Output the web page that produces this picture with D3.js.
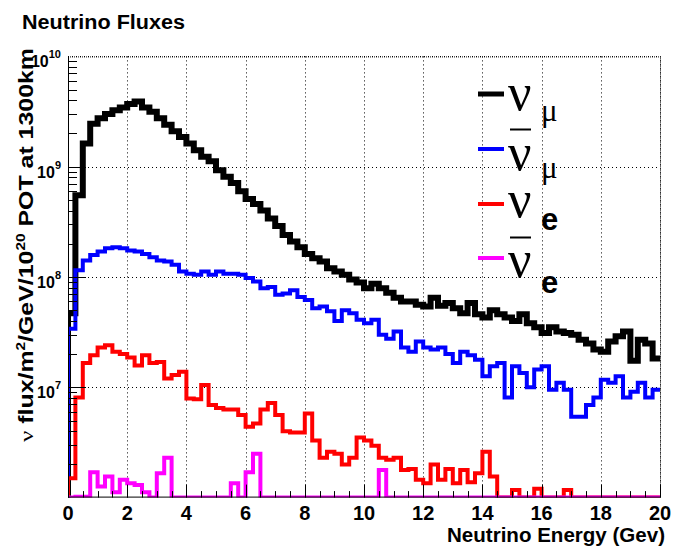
<!DOCTYPE html>
<html>
<head>
<meta charset="utf-8">
<script src="https://cdn.jsdelivr.net/npm/d3@7"></script>
<style>
  html, body { margin: 0; padding: 0; background: #fff; }
  svg { display: block; }
</style>
</head>
<body>
<svg id="chart" width="673" height="548"></svg>
<script>
// Histogram binning: 80 bins of 0.25 GeV over 0-20 GeV
const energyRange = [0, 20];
const binWidth = 0.25;
const fluxRange = [1e6, 1e10];

// Flux per bin (nu / m^2 / GeV / 1e20 POT at 1300 km); 0 = empty bin
const numu = [
  4.7e7, 5.5e8, 1.62e9, 2.45e9, 2.75e9, 3.0e9, 3.25e9, 3.45e9, 3.7e9, 3.9e9,
  3.45e9, 3.15e9, 2.75e9, 2.4e9, 2.1e9, 1.86e9, 1.62e9, 1.41e9, 1.23e9, 1.12e9,
  9.3e8, 8.1e8, 7.1e8, 6.0e8, 5.1e8, 4.6e8, 4.0e8, 3.4e8, 2.9e8, 2.4e8,
  2.1e8, 1.86e8, 1.62e8, 1.48e8, 1.38e8, 1.2e8, 1.12e8, 1.05e8, 9.5e7, 8.9e7,
  7.9e7, 8.7e7, 7.9e7, 7.2e7, 6.5e7, 6.0e7, 6.0e7, 5.6e7, 5.4e7, 6.5e7,
  5.5e7, 5.8e7, 5.2e7, 4.7e7, 5.8e7, 4.6e7, 4.3e7, 5.0e7, 4.6e7, 4.3e7,
  4.0e7, 4.6e7, 3.8e7, 3.5e7, 3.1e7, 3.5e7, 3.2e7, 3.1e7, 3.0e7, 2.7e7,
  2.5e7, 2.2e7, 2.1e7, 2.6e7, 2.9e7, 3.2e7, 1.74e7, 2.7e7, 2.5e7, 1.82e7
];
const numubar = [
  3.4e7, 1.15e8, 1.41e8, 1.58e8, 1.7e8, 1.82e8, 1.86e8, 1.82e8, 1.74e8, 1.7e8,
  1.62e8, 1.51e8, 1.41e8, 1.38e8, 1.29e8, 1.12e8, 1.07e8, 1.05e8, 1.12e8, 1.05e8,
  1.12e8, 1.07e8, 1.07e8, 1.05e8, 9.8e7, 9.1e7, 7.9e7, 8.1e7, 6.9e7, 7.1e7,
  7.6e7, 6.6e7, 6.2e7, 5.2e7, 5.4e7, 4.9e7, 4.0e7, 5.0e7, 4.7e7, 4.1e7,
  3.8e7, 4.1e7, 3.0e7, 2.75e7, 3.2e7, 2.3e7, 2.1e7, 2.6e7, 2.3e7, 2.2e7,
  2.3e7, 2.0e7, 1.66e7, 2.1e7, 1.95e7, 1.78e7, 1.26e7, 1.55e7, 1.66e7, 8.1e6,
  1.55e7, 1.35e7, 1.0e7, 1.45e7, 1.55e7, 9.5e6, 1.1e7, 9.5e6, 5.4e6, 5.4e6,
  6.9e6, 8.1e6, 1.17e7, 1.1e7, 1.26e7, 8.1e6, 9.1e6, 1.1e7, 8.1e6, 9.5e6
];
const nue = [
  1.5e6, 8.1e6, 1.66e7, 1.95e7, 2.3e7, 2.4e7, 2.1e7, 2.0e7, 1.86e7, 1.58e7,
  1.95e7, 1.66e7, 1.7e7, 1.2e7, 1.29e7, 1.38e7, 7.9e6, 7.8e6, 1.05e7, 6.9e6,
  6.5e6, 6.3e6, 6.3e6, 5.6e6, 4.4e6, 4.7e6, 6.3e6, 7.2e6, 5.6e6, 4.0e6,
  3.9e6, 3.9e6, 5.8e6, 3.3e6, 2.3e6, 2.6e6, 2.5e6, 2.0e6, 2.3e6, 3.5e6,
  3.3e6, 2.95e6, 2.3e6, 2.2e6, 2.3e6, 1.78e6, 1.82e6, 1.45e6, 1.35e6, 2.0e6,
  1.45e6, 1.82e6, 1.35e6, 1.78e6, 1.38e6, 1.66e6, 2.6e6, 1.55e6, 0, 0,
  1.17e6, 0, 0, 1.2e6, 0, 0, 0, 1.17e6, 0, 0,
  0, 0, 0, 0, 0, 0, 0, 0, 0, 0
];
const nuebar = [
  0, 1.02e6, 1.02e6, 1.7e6, 1.26e6, 1.55e6, 1.12e6, 1.45e6, 1.35e6, 1.3e6,
  1.12e6, 0, 1.66e6, 2.3e6, 0, 0, 0, 0, 0, 0,
  0, 0, 1.35e6, 0, 1.7e6, 2.5e6, 0, 0, 0, 0,
  0, 0, 0, 0, 0, 0, 0, 0, 0, 0,
  0, 0, 1.78e6, 0, 0, 0, 0, 0, 0, 0,
  0, 0, 0, 0, 0, 0, 0, 0, 0, 0,
  0, 0, 0, 0, 0, 0, 0, 0, 0, 0,
  0, 0, 0, 0, 0, 0, 0, 0, 0, 0
];

// Axis labelling
const xTickLabels = [0, 2, 4, 6, 8, 10, 12, 14, 16, 18, 20];
const yDecadeLabels = [7, 8, 9, 10];

const svg = d3.select("#chart");
const frame = { left: 68, right: 660, top: 56.4, bottom: 497.6 };

const x = d3.scaleLinear().domain(energyRange).range([frame.left, frame.right]);
const y = d3.scaleLog().domain(fluxRange).range([frame.bottom, frame.top]);

const sans = "'Liberation Sans', Arial, Helvetica, sans-serif";
const serif = "'Liberation Serif', 'Times New Roman', serif";

svg.append("rect").attr("width", 673).attr("height", 548).attr("fill", "#fff");

// Title
svg.append("text")
  .attr("x", 22).attr("y", 28.5)
  .attr("font-family", sans).attr("font-weight", "bold").attr("font-size", 19.5)
  .attr("textLength", 163).attr("lengthAdjust", "spacingAndGlyphs")
  .text("Neutrino Fluxes");

// Grid (dotted)
const grid = svg.append("g").attr("stroke", "#000").attr("stroke-width", 1)
  .attr("stroke-dasharray", "1,3").attr("fill", "none");
xTickLabels.filter(v => v > energyRange[0]).forEach(v => {
  grid.append("line")
    .attr("x1", Math.round(x(v)) + 0.5).attr("x2", Math.round(x(v)) + 0.5)
    .attr("y1", frame.top).attr("y2", frame.bottom);
});
yDecadeLabels.forEach(p => {
  const yy = Math.round(y(Math.pow(10, p))) + 0.5;
  grid.append("line").attr("x1", frame.left).attr("x2", frame.right)
    .attr("y1", yy).attr("y2", yy);
});

// Histograms
svg.append("clipPath").attr("id", "frameClip").append("rect")
  .attr("x", frame.left).attr("y", frame.top)
  .attr("width", frame.right - frame.left).attr("height", frame.bottom - frame.top);

function stepPoints(vals) {
  const lo = fluxRange[0];
  const pts = [[energyRange[0], lo]];
  vals.forEach((v, i) => {
    const val = Math.max(v, lo);
    pts.push([energyRange[0] + i * binWidth, val]);
    pts.push([energyRange[0] + (i + 1) * binWidth, val]);
  });
  return pts;
}
const stepLine = d3.line().x(d => x(d[0])).y(d => y(d[1]));

const series = [
  { values: numu,    color: "#000000", width: 6 },
  { values: numubar, color: "#0000ff", width: 4 },
  { values: nue,     color: "#ff0000", width: 4 },
  { values: nuebar,  color: "#ff00ff", width: 4 }
];
const hg = svg.append("g").attr("clip-path", "url(#frameClip)");
series.forEach(s => {
  hg.append("path")
    .attr("d", stepLine(stepPoints(s.values)))
    .attr("fill", "none").attr("stroke", s.color)
    .attr("stroke-width", s.width).attr("stroke-linejoin", "miter");
});

// Axes
const axes = svg.append("g").attr("stroke", "#000").attr("stroke-width", 1).attr("fill", "none");
axes.append("line").attr("x1", frame.left + 0.5).attr("x2", frame.left + 0.5)
  .attr("y1", frame.top).attr("y2", frame.bottom);
axes.append("line").attr("x1", frame.left).attr("x2", frame.right)
  .attr("y1", frame.bottom - 0.5).attr("y2", frame.bottom - 0.5);
axes.append("line").attr("x1", frame.left).attr("x2", frame.right)
  .attr("y1", frame.top + 0.5).attr("y2", frame.top + 0.5)
  .attr("stroke-dasharray", "1,1");
axes.append("line").attr("x1", frame.right + 0.5).attr("x2", frame.right + 0.5)
  .attr("y1", frame.top).attr("y2", frame.bottom)
  .attr("stroke-dasharray", "1,1");

// x ticks: major every 2 GeV, minor every 0.5 GeV
d3.range(0, 20.001, 0.5).forEach(v => {
  const major = Math.abs(v / 2 - Math.round(v / 2)) < 1e-6;
  const xx = Math.round(x(v)) + 0.5;
  axes.append("line").attr("x1", xx).attr("x2", xx)
    .attr("y1", frame.bottom).attr("y2", frame.bottom - (major ? 13 : 6.5));
});
// y ticks: decades and 2..9 minors
for (let p = 6; p < 10; p++) {
  for (let m = 1; m <= 9; m++) {
    const v = m * Math.pow(10, p);
    if (v <= fluxRange[0]) continue;
    const yy = Math.round(y(v)) + 0.5;
    axes.append("line").attr("x1", frame.left).attr("x2", frame.left + (m === 1 ? 18 : 9))
      .attr("y1", yy).attr("y2", yy);
  }
}

// x tick labels
svg.append("g").selectAll("text").data(xTickLabels).join("text")
  .attr("x", d => x(d)).attr("y", 519.5)
  .attr("text-anchor", "middle")
  .attr("font-family", sans).attr("font-weight", "bold").attr("font-size", 20)
  .text(d => d);

// y tick labels 10^n
yDecadeLabels.forEach(p => {
  const t = svg.append("text")
    .attr("x", 61).attr("y", y(Math.pow(10, p)) + 11)
    .attr("text-anchor", "end")
    .attr("font-family", sans).attr("font-weight", "bold").attr("font-size", 16);
  t.append("tspan").text("10");
  t.append("tspan").attr("dy", -9).attr("font-size", 11).text(p);
});

// Axis titles
svg.append("text")
  .attr("x", 665).attr("y", 541.5)
  .attr("text-anchor", "end")
  .attr("font-family", sans).attr("font-weight", "bold").attr("font-size", 20)
  .attr("textLength", 218).attr("lengthAdjust", "spacingAndGlyphs")
  .text("Neutrino Energy (Gev)");

const yt = svg.append("text")
  .attr("transform", "translate(33,48) rotate(-90)")
  .attr("text-anchor", "end")
  .attr("font-family", sans).attr("font-weight", "bold").attr("font-size", 19.5)
  .attr("textLength", 394).attr("lengthAdjust", "spacingAndGlyphs");
yt.append("tspan").attr("font-family", serif).attr("font-weight", "normal").text("\u03BD");
yt.append("tspan").text(" flux/m");
yt.append("tspan").attr("dy", -8).attr("font-size", 12).text("2");
yt.append("tspan").attr("dy", 8).text("/GeV/10");
yt.append("tspan").attr("dy", -8).attr("font-size", 12).text("20");
yt.append("tspan").attr("dy", 8).text(" POT at 1300km");

// Legend
const legendEntries = [
  { color: "#000000", width: 5, lineY: 94,  nuBase: 110, bar: false, sub: "\u03BC", subSerif: true,  subBase: 121 },
  { color: "#0000ff", width: 4, lineY: 149, nuBase: 170, bar: true,  barY: 129.5, sub: "\u03BC", subSerif: true,  subBase: 178 },
  { color: "#ff0000", width: 4, lineY: 204, nuBase: 217, bar: false, sub: "e", subSerif: false, subBase: 230 },
  { color: "#ff00ff", width: 4, lineY: 258, nuBase: 277, bar: true,  barY: 237.5, sub: "e", subSerif: false, subBase: 293 }
];
const lg = svg.append("g");
legendEntries.forEach(e => {
  lg.append("line").attr("x1", 478).attr("x2", 504)
    .attr("y1", e.lineY).attr("y2", e.lineY)
    .attr("stroke", e.color).attr("stroke-width", e.width);
  lg.append("text").attr("x", 508).attr("y", e.nuBase)
    .attr("font-family", serif).attr("font-size", 52).text("\u03BD");
  if (e.bar) {
    lg.append("line").attr("x1", 510).attr("x2", 531)
      .attr("y1", e.barY).attr("y2", e.barY)
      .attr("stroke", "#000").attr("stroke-width", 2);
  }
  lg.append("text").attr("x", 541).attr("y", e.subBase)
    .attr("font-family", e.subSerif ? serif : sans)
    .attr("font-weight", e.subSerif ? "normal" : "bold")
    .attr("font-size", 31).text(e.sub);
});
</script>
</body>
</html>
